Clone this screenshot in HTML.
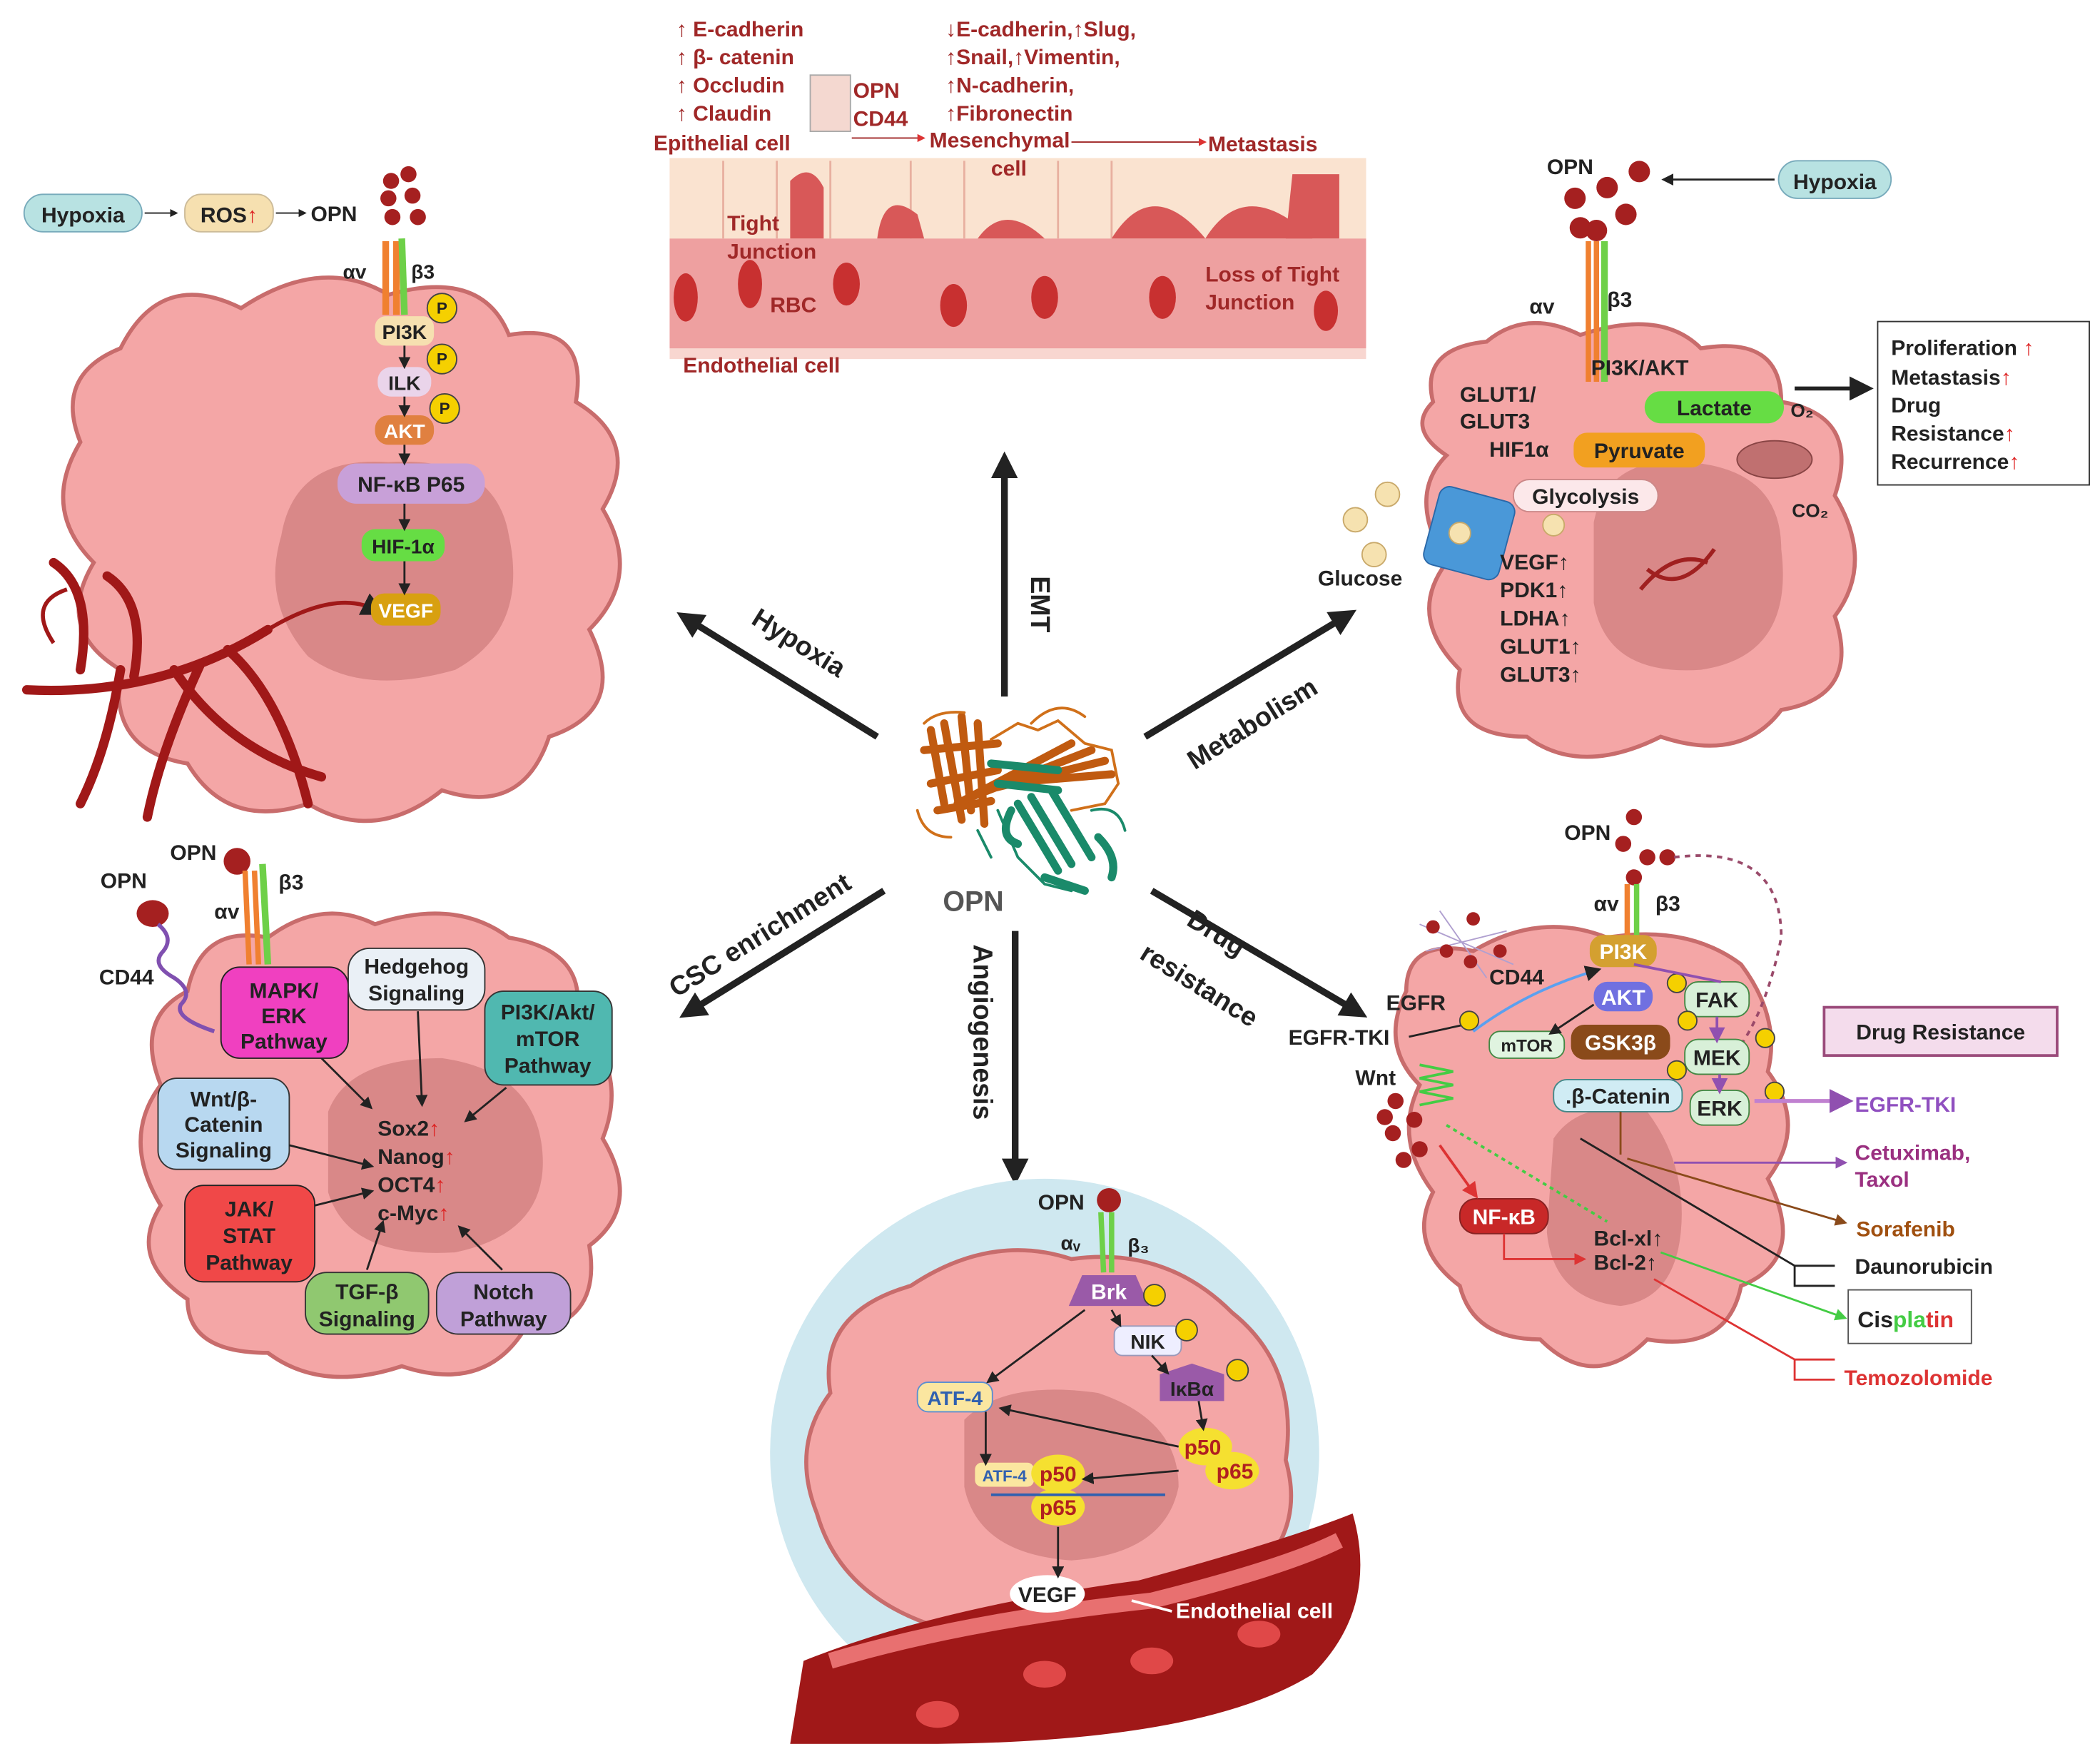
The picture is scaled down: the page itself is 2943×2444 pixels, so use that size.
<!DOCTYPE html>
<html><head><meta charset="utf-8"><style>
html,body{margin:0;padding:0;background:#fff}
svg{display:block}
text{font-family:"Liberation Sans",sans-serif;font-weight:bold}
</style></head><body>
<svg width="2943" height="2444" viewBox="0 0 1568 1302" xmlns="http://www.w3.org/2000/svg">
<defs>
<marker id="ah" markerWidth="6" markerHeight="6" refX="3" refY="3" orient="auto"><path d="M0,0L6,3L0,6z" fill="#222"/></marker>
<marker id="big" markerWidth="4" markerHeight="4" refX="1" refY="2" orient="auto"><path d="M0,0L4,2L0,4z" fill="#222"/></marker>
<marker id="ar" markerWidth="6" markerHeight="6" refX="3" refY="3" orient="auto"><path d="M0,0L6,3L0,6z" fill="#d33"/></marker>
<marker id="ap" markerWidth="6" markerHeight="6" refX="3" refY="3" orient="auto"><path d="M0,0L6,3L0,6z" fill="#9050b0"/></marker>
<marker id="ab" markerWidth="6" markerHeight="6" refX="3" refY="3" orient="auto"><path d="M0,0L6,3L0,6z" fill="#8a4a1a"/></marker>
<marker id="ag" markerWidth="6" markerHeight="6" refX="3" refY="3" orient="auto"><path d="M0,0L6,3L0,6z" fill="#4c4"/></marker>
</defs>

<!-- ===== Top-left cell ===== -->
<g>
<path d="M60,330 Q40,280 90,260 Q120,200 180,230 Q240,190 290,220 Q360,200 380,250 Q440,240 430,300 Q480,330 450,380 Q480,430 440,470 Q470,530 410,550 Q390,610 330,590 Q280,630 230,600 Q170,620 140,570 Q80,560 90,500 Q40,470 70,420 Q30,380 60,330Z" fill="#f4a6a6" stroke="#c86c6c" stroke-width="3"/>
<path d="M210,400 Q220,340 290,345 Q370,340 380,400 Q395,470 340,500 Q270,520 230,490 Q195,450 210,400Z" fill="#d98888"/>
<path d="M20,515 Q120,520 200,470 M60,500 Q70,440 40,420 M100,505 Q110,450 80,430 M130,500 Q170,560 240,580 M150,495 Q120,560 110,610 M170,485 Q210,520 230,600 M90,500 Q80,560 60,600" stroke="#a01818" stroke-width="7" fill="none" stroke-linecap="round"/>
<path d="M40,480 Q20,450 50,440 M200,470 Q250,440 280,455" stroke="#a01818" stroke-width="3" fill="none" marker-end="url(#ah)"/>
</g>
<rect x="18" y="145" width="88" height="28" rx="14" fill="#b8e2e2" stroke="#7ab"/>
<text x="62" y="166" font-size="16" text-anchor="middle" fill="#222">Hypoxia</text>
<line x1="108" y1="159" x2="130" y2="159" stroke="#222" marker-end="url(#ah)"/>
<rect x="138" y="145" width="66" height="28" rx="12" fill="#f6e0b0" stroke="#cb9"/>
<text x="171" y="166" font-size="16" text-anchor="middle" fill="#222">ROS<tspan fill="#d22">↑</tspan></text>
<line x1="206" y1="159" x2="226" y2="159" stroke="#222" marker-end="url(#ah)"/>
<text x="232" y="165" font-size="16" fill="#222">OPN</text>
<g fill="#a52020"><circle cx="292" cy="135" r="6"/><circle cx="305" cy="130" r="6"/><circle cx="290" cy="148" r="6"/><circle cx="308" cy="146" r="6"/><circle cx="293" cy="162" r="6"/><circle cx="312" cy="162" r="6"/></g>
<path d="M288,180 L288,235 M296,180 L296,235" stroke="#f08030" stroke-width="5"/><path d="M300,178 L302,235" stroke="#6ed048" stroke-width="5"/>
<text x="256" y="208" font-size="15" fill="#222">αv</text><text x="307" y="208" font-size="15" fill="#222">β3</text>
<rect x="280" y="236" width="44" height="22" rx="8" fill="#f6e0b0"/><text x="302" y="253" font-size="15" text-anchor="middle" fill="#222">PI3K</text>
<rect x="282" y="274" width="40" height="22" rx="10" fill="#ead4ea"/><text x="302" y="291" font-size="15" text-anchor="middle" fill="#222">ILK</text>
<rect x="280" y="310" width="44" height="22" rx="10" fill="#e08040"/><text x="302" y="327" font-size="15" text-anchor="middle" fill="#fff">AKT</text>
<g fill="#f5d000" stroke="#444"><circle cx="330" cy="230" r="11"/><circle cx="330" cy="268" r="11"/><circle cx="332" cy="305" r="11"/></g>
<g font-size="12" text-anchor="middle" fill="#222"><text x="330" y="234">P</text><text x="330" y="272">P</text><text x="332" y="309">P</text></g>
<rect x="252" y="346" width="110" height="30" rx="14" fill="#c8a0d8"/><text x="307" y="367" font-size="16" text-anchor="middle" fill="#222">NF-κB P65</text>
<rect x="270" y="395" width="62" height="24" rx="10" fill="#66dd44"/><text x="301" y="413" font-size="15" text-anchor="middle" fill="#222">HIF-1α</text>
<rect x="277" y="443" width="52" height="24" rx="10" fill="#d8a010"/><text x="303" y="461" font-size="15" text-anchor="middle" fill="#fff">VEGF</text>
<g stroke="#222" stroke-width="1.5" marker-end="url(#ah)"><line x1="302" y1="258" x2="302" y2="271"/><line x1="302" y1="296" x2="302" y2="307"/><line x1="302" y1="332" x2="302" y2="343"/><line x1="302" y1="376" x2="302" y2="392"/><line x1="302" y1="419" x2="302" y2="440"/></g>

<!-- ===== EMT panel ===== -->
<rect x="500" y="118" width="520" height="150" fill="#f8d6d0"/>
<rect x="500" y="178" width="520" height="82" fill="#eea0a0"/>
<rect x="500" y="118" width="520" height="60" fill="#fae3d0"/>
<g stroke="#e8b0a0" stroke-width="1.5"><line x1="540" y1="120" x2="540" y2="178"/><line x1="580" y1="120" x2="580" y2="178"/><line x1="620" y1="120" x2="620" y2="178"/><line x1="680" y1="120" x2="680" y2="178"/><line x1="720" y1="120" x2="720" y2="178"/><line x1="790" y1="120" x2="790" y2="178"/><line x1="830" y1="120" x2="830" y2="178"/></g>
<g fill="#c83030"><ellipse cx="512" cy="222" rx="9" ry="18"/><ellipse cx="560" cy="212" rx="9" ry="18"/><ellipse cx="632" cy="212" rx="10" ry="16"/><ellipse cx="712" cy="228" rx="10" ry="16"/><ellipse cx="780" cy="222" rx="10" ry="16"/><ellipse cx="868" cy="222" rx="10" ry="16"/><ellipse cx="990" cy="232" rx="9" ry="15"/></g>
<g fill="#d85858"><path d="M590,178 L590,135 Q605,120 615,140 L615,178Z"/><path d="M655,178 Q660,140 685,160 L690,178Z"/><path d="M730,178 Q750,150 780,178Z"/><path d="M830,178 Q860,130 900,178Z"/><path d="M900,178 Q930,130 980,178Z"/><path d="M960,178 L965,130 L1000,130 L1000,178Z"/></g>
<g font-size="16" fill="#a02828">
<text x="505" y="27">↑ E-cadherin</text><text x="505" y="48">↑ β- catenin</text><text x="505" y="69">↑ Occludin</text><text x="505" y="90">↑ Claudin</text>
<text x="488" y="112">Epithelial cell</text>
<text x="637" y="73">OPN</text><text x="637" y="94">CD44</text>
<text x="706" y="27">↓E-cadherin,↑Slug,</text><text x="706" y="48">↑Snail,↑Vimentin,</text><text x="706" y="69">↑N-cadherin,</text><text x="706" y="90">↑Fibronectin</text>
<text x="694" y="110">Mesenchymal</text><text x="740" y="131">cell</text>
<text x="902" y="113">Metastasis</text>
<text x="543" y="172">Tight</text><text x="543" y="193">Junction</text>
<text x="575" y="233">RBC</text>
<text x="900" y="210">Loss of Tight</text><text x="900" y="231">Junction</text>
<text x="510" y="278">Endothelial cell</text>
</g>
<rect x="605" y="56" width="30" height="42" fill="#f4d8d0" stroke="#aaa"/>
<line x1="636" y1="103" x2="688" y2="103" stroke="#a02828" marker-end="url(#ar)"/>
<line x1="800" y1="106" x2="898" y2="106" stroke="#a02828" marker-end="url(#ar)"/>

<!-- ===== Top-right cell ===== -->
<path d="M1070,300 Q1060,260 1110,255 Q1140,230 1180,250 Q1240,230 1270,260 Q1330,250 1330,300 Q1390,310 1370,370 Q1400,420 1370,460 Q1390,520 1330,530 Q1300,570 1240,550 Q1180,580 1140,550 Q1080,550 1090,500 Q1050,460 1080,420 Q1050,370 1080,340 Q1050,320 1070,300Z" fill="#f4a6a6" stroke="#c86c6c" stroke-width="3"/>
<path d="M1190,390 Q1200,340 1260,345 Q1330,350 1330,410 Q1340,490 1270,500 Q1200,505 1190,450Z" fill="#d98888"/>
<path d="M1225,440 Q1250,410 1275,420 M1230,425 Q1255,445 1280,410" stroke="#a02020" stroke-width="3" fill="none"/>
<text x="1155" y="130" font-size="16" fill="#222">OPN</text>
<g fill="#a52020"><circle cx="1176" cy="148" r="8"/><circle cx="1200" cy="140" r="8"/><circle cx="1224" cy="128" r="8"/><circle cx="1180" cy="170" r="8"/><circle cx="1214" cy="160" r="8"/><circle cx="1192" cy="172" r="8"/></g>
<line x1="1325" y1="134" x2="1245" y2="134" stroke="#222" stroke-width="1.5" marker-end="url(#ah)"/>
<rect x="1328" y="120" width="84" height="28" rx="14" fill="#b8e2e2" stroke="#7ab"/><text x="1370" y="141" font-size="16" text-anchor="middle" fill="#222">Hypoxia</text>
<path d="M1186,180 L1186,285 M1192,180 L1192,285" stroke="#f08030" stroke-width="4"/><path d="M1198,180 L1198,285" stroke="#6ed048" stroke-width="5"/>
<text x="1142" y="234" font-size="16" fill="#222">αv</text><text x="1200" y="229" font-size="16" fill="#222">β3</text>
<text x="1188" y="280" font-size="16" fill="#222">PI3K/AKT</text>
<text x="1090" y="300" font-size="16" fill="#222">GLUT1/</text><text x="1090" y="320" font-size="16" fill="#222">GLUT3</text>
<text x="1112" y="341" font-size="16" fill="#222">HIF1α</text>
<rect x="1228" y="292" width="104" height="24" rx="12" fill="#66dd44"/><text x="1280" y="310" font-size="16" text-anchor="middle" fill="#222">Lactate</text>
<text x="1337" y="311" font-size="14" fill="#222">O₂</text>
<rect x="1175" y="323" width="98" height="26" rx="10" fill="#f2a020"/><text x="1224" y="342" font-size="16" text-anchor="middle" fill="#222">Pyruvate</text>
<ellipse cx="1325" cy="343" rx="28" ry="14" fill="#c07070" stroke="#844"/>
<text x="1338" y="386" font-size="14" fill="#222">CO₂</text>
<rect x="1130" y="358" width="108" height="24" rx="12" fill="#fce8ea" stroke="#c88"/><text x="1184" y="376" font-size="16" text-anchor="middle" fill="#222">Glycolysis</text>
<rect x="1068" y="368" width="58" height="60" rx="8" fill="#4a98d8" stroke="#2a68a8" transform="rotate(15 1097 398)"/>
<g fill="#f6e2b0" stroke="#c9a96a"><circle cx="1012" cy="388" r="9"/><circle cx="1036" cy="369" r="9"/><circle cx="1026" cy="414" r="9"/><circle cx="1090" cy="398" r="8"/><circle cx="1160" cy="392" r="8"/></g>
<text x="984" y="437" font-size="16" fill="#222">Glucose</text>
<g font-size="16" fill="#222"><text x="1120" y="425">VEGF↑</text><text x="1120" y="446">PDK1↑</text><text x="1120" y="467">LDHA↑</text><text x="1120" y="488">GLUT1↑</text><text x="1120" y="509">GLUT3↑</text></g>
<line x1="1340" y1="290" x2="1390" y2="290" stroke="#222" stroke-width="3" marker-end="url(#ah)"/>
<rect x="1402" y="240" width="158" height="122" fill="#fff" stroke="#333"/>
<g font-size="16" fill="#222"><text x="1412" y="265">Proliferation <tspan fill="#d22">↑</tspan></text><text x="1412" y="287">Metastasis<tspan fill="#d22">↑</tspan></text><text x="1412" y="308">Drug</text><text x="1412" y="329">Resistance<tspan fill="#d22">↑</tspan></text><text x="1412" y="350">Recurrence<tspan fill="#d22">↑</tspan></text></g>

<!-- ===== Center protein ===== -->
<g fill="none" stroke-linecap="round">
<g stroke="#c05a10" stroke-width="6">
<path d="M695,545 L705,600 M705,540 L718,612 M718,535 L725,605 M730,540 L735,615 M690,560 L745,555 M695,585 L745,575 M700,605 L740,598"/>
<path d="M715,600 L800,555 M725,595 L815,560 M735,590 L825,568 M745,585 L830,578"/>
</g>
<g stroke="#d0701a" stroke-width="2">
<path d="M690,540 Q700,530 720,532 M740,552 L760,540 L775,545 L790,538 L810,555 L830,560 L835,585 L825,600 L800,605 M685,605 Q690,625 710,625 M770,540 Q790,520 810,535"/>
</g>
<g stroke="#1a8a6a" stroke-width="6">
<path d="M740,570 L790,575 M745,585 L790,590 M760,600 L790,650 M770,595 L800,645 M785,590 L815,640 M755,605 Q745,625 760,630 M820,625 Q835,640 830,655 M780,655 L810,665"/>
</g>
<g stroke="#1a8a6a" stroke-width="2">
<path d="M745,605 L760,640 L780,660 L800,665 M815,605 Q835,600 840,620 M730,620 L740,640"/>
</g>
</g>
<text x="704" y="680" font-size="21" fill="#555">OPN</text>
<g stroke="#222" stroke-width="5" marker-end="url(#big)" fill="none">
<line x1="655" y1="550" x2="518" y2="465"/>
<line x1="750" y1="520" x2="750" y2="352"/>
<line x1="855" y1="550" x2="1000" y2="463"/>
<line x1="660" y1="665" x2="520" y2="752"/>
<line x1="758" y1="695" x2="758" y2="870"/>
<line x1="860" y1="665" x2="1008" y2="752"/>
</g>
<text font-size="20" fill="#222" transform="translate(560,465) rotate(32)">Hypoxia</text>
<text font-size="20" fill="#222" transform="translate(770,430) rotate(90)">EMT</text>
<text font-size="20" fill="#222" transform="translate(892,575) rotate(-32)">Metabolism</text>
<text font-size="20" fill="#222" transform="translate(505,745) rotate(-32)">CSC enrichment</text>
<text font-size="20" fill="#222" transform="translate(727,705) rotate(90)">Angiogenesis</text>
<text font-size="20" fill="#222" transform="translate(885,690) rotate(32)">Drug</text>
<text font-size="20" fill="#222" transform="translate(850,715) rotate(32)">resistance</text>

<!-- ===== Bottom-left cell ===== -->
<path d="M140,740 Q150,690 200,700 Q240,670 280,690 Q340,670 380,700 Q440,710 430,760 Q470,800 450,850 Q480,900 440,930 Q450,990 390,995 Q360,1040 300,1020 Q240,1040 200,1010 Q140,1010 140,970 Q95,940 120,900 Q90,850 120,810 Q100,760 140,740Z" fill="#f4a6a6" stroke="#c86c6c" stroke-width="3"/>
<path d="M245,830 Q260,790 330,790 Q400,800 405,860 Q410,920 340,935 Q260,940 245,890Z" fill="#d98888"/>
<text x="127" y="642" font-size="16" fill="#222">OPN</text><text x="75" y="663" font-size="16" fill="#222">OPN</text>
<text x="74" y="735" font-size="16" fill="#222">CD44</text>
<circle cx="177" cy="643" r="10" fill="#a52020"/><ellipse cx="114" cy="682" rx="12" ry="10" fill="#a52020"/>
<path d="M118,690 Q130,700 122,710 Q112,720 130,730 Q145,740 135,750 Q130,760 160,770" stroke="#8050b0" stroke-width="3" fill="none"/>
<path d="M183,650 L186,720 M190,650 L193,720" stroke="#f08030" stroke-width="4"/><path d="M196,645 L200,720" stroke="#6ed048" stroke-width="5"/>
<text x="160" y="686" font-size="16" fill="#222">αv</text><text x="208" y="664" font-size="16" fill="#222">β3</text>
<rect x="165" y="722" width="95" height="68" rx="14" fill="#f040c0" stroke="#222"/><text x="212" y="745" font-size="16" text-anchor="middle" fill="#222">MAPK/</text><text x="212" y="764" font-size="16" text-anchor="middle" fill="#222">ERK</text><text x="212" y="783" font-size="16" text-anchor="middle" fill="#222">Pathway</text>
<rect x="260" y="708" width="102" height="46" rx="16" fill="#eaf0f6" stroke="#333"/><text x="311" y="727" font-size="16" text-anchor="middle" fill="#222">Hedgehog</text><text x="311" y="747" font-size="16" text-anchor="middle" fill="#222">Signaling</text>
<rect x="362" y="740" width="95" height="70" rx="14" fill="#50b8b0" stroke="#333"/><text x="409" y="761" font-size="16" text-anchor="middle" fill="#222">PI3K/Akt/</text><text x="409" y="781" font-size="16" text-anchor="middle" fill="#222">mTOR</text><text x="409" y="801" font-size="16" text-anchor="middle" fill="#222">Pathway</text>
<rect x="118" y="805" width="98" height="68" rx="14" fill="#b8d8f0" stroke="#333"/><text x="167" y="826" font-size="16" text-anchor="middle" fill="#222">Wnt/β-</text><text x="167" y="845" font-size="16" text-anchor="middle" fill="#222">Catenin</text><text x="167" y="864" font-size="16" text-anchor="middle" fill="#222">Signaling</text>
<rect x="138" y="885" width="97" height="72" rx="14" fill="#f04848" stroke="#222"/><text x="186" y="908" font-size="16" text-anchor="middle" fill="#222">JAK/</text><text x="186" y="928" font-size="16" text-anchor="middle" fill="#222">STAT</text><text x="186" y="948" font-size="16" text-anchor="middle" fill="#222">Pathway</text>
<rect x="228" y="950" width="92" height="46" rx="16" fill="#90c870" stroke="#333"/><text x="274" y="970" font-size="16" text-anchor="middle" fill="#222">TGF-β</text><text x="274" y="990" font-size="16" text-anchor="middle" fill="#222">Signaling</text>
<rect x="326" y="950" width="100" height="46" rx="16" fill="#c0a0d8" stroke="#333"/><text x="376" y="970" font-size="16" text-anchor="middle" fill="#222">Notch</text><text x="376" y="990" font-size="16" text-anchor="middle" fill="#222">Pathway</text>
<g font-size="16" fill="#222"><text x="282" y="848">Sox2<tspan fill="#d22">↑</tspan></text><text x="282" y="869">Nanog<tspan fill="#d22">↑</tspan></text><text x="282" y="890">OCT4<tspan fill="#d22">↑</tspan></text><text x="282" y="911">c-Myc<tspan fill="#d22">↑</tspan></text></g>
<g stroke="#222" stroke-width="1.5" marker-end="url(#ah)"><line x1="240" y1="790" x2="275" y2="825"/><line x1="312" y1="755" x2="315" y2="822"/><line x1="378" y1="812" x2="350" y2="835"/><line x1="216" y1="855" x2="275" y2="870"/><line x1="235" y1="900" x2="275" y2="890"/><line x1="274" y1="948" x2="285" y2="915"/><line x1="375" y1="948" x2="345" y2="918"/></g>

<!-- ===== Bottom center ===== -->
<circle cx="780" cy="1085" r="205" fill="#cfe8f0"/>
<path d="M620,1040 Q610,980 680,960 Q740,920 800,940 Q870,930 920,980 Q970,1020 960,1090 Q980,1160 900,1200 Q820,1240 720,1220 Q630,1200 610,1130 Q590,1080 620,1040Z" fill="#f4a6a6" stroke="#c86c6c" stroke-width="3"/>
<path d="M720,1060 Q750,1030 820,1040 Q880,1060 880,1110 Q870,1160 800,1165 Q730,1160 720,1110Z" fill="#d98888"/>
<path d="M600,1240 Q700,1200 850,1180 Q960,1150 1010,1130 Q1030,1200 980,1250 Q900,1300 700,1302 L590,1302Z" fill="#a01818"/>
<path d="M620,1240 Q720,1210 860,1195 Q960,1170 1000,1150" stroke="#e87070" stroke-width="12" fill="none"/>
<g fill="#e04848"><ellipse cx="780" cy="1250" rx="16" ry="10"/><ellipse cx="860" cy="1240" rx="16" ry="10"/><ellipse cx="940" cy="1220" rx="16" ry="10"/><ellipse cx="700" cy="1280" rx="16" ry="10"/></g>
<text x="775" y="903" font-size="16" fill="#222">OPN</text><circle cx="828" cy="896" r="9" fill="#a52020"/>
<path d="M822,905 L824,950 M830,905 L830,950" stroke="#6ed048" stroke-width="4"/>
<text x="792" y="933" font-size="15" fill="#222">αᵥ</text><text x="842" y="935" font-size="15" fill="#222">β₃</text>
<path d="M808,952 L848,952 L858,975 L798,975Z" fill="#9a5aa8"/><text x="828" y="970" font-size="16" text-anchor="middle" fill="#fff">Brk</text>
<rect x="832" y="990" width="50" height="22" rx="6" fill="#eef" stroke="#99b"/><text x="857" y="1007" font-size="15" text-anchor="middle" fill="#222">NIK</text>
<path d="M866,1026 L890,1018 L914,1026 L914,1046 L866,1046Z" fill="#9a5aa8"/><text x="890" y="1042" font-size="15" text-anchor="middle" fill="#222">IκBα</text>
<g fill="#f5d000" stroke="#444"><circle cx="862" cy="967" r="8"/><circle cx="886" cy="993" r="8"/><circle cx="924" cy="1023" r="8"/></g>
<rect x="685" y="1032" width="56" height="22" rx="8" fill="#fbe6a0" stroke="#5b8fd0"/><text x="713" y="1049" font-size="15" text-anchor="middle" fill="#3060b0">ATF-4</text>
<ellipse cx="900" cy="1080" rx="20" ry="14" fill="#f5e030"/><ellipse cx="920" cy="1098" rx="20" ry="14" fill="#f5e030"/>
<text x="898" y="1086" font-size="16" text-anchor="middle" fill="#b02020">p50</text><text x="922" y="1104" font-size="16" text-anchor="middle" fill="#b02020">p65</text>
<rect x="728" y="1092" width="44" height="18" rx="5" fill="#fbe6a0"/><text x="750" y="1106" font-size="12" text-anchor="middle" fill="#3060b0">ATF-4</text>
<ellipse cx="790" cy="1100" rx="20" ry="14" fill="#f5e030"/><ellipse cx="790" cy="1125" rx="20" ry="14" fill="#f5e030"/>
<text x="790" y="1106" font-size="16" text-anchor="middle" fill="#b02020">p50</text><text x="790" y="1131" font-size="16" text-anchor="middle" fill="#b02020">p65</text>
<line x1="740" y1="1116" x2="870" y2="1116" stroke="#3060b0" stroke-width="2"/>
<ellipse cx="782" cy="1190" rx="28" ry="14" fill="#fff"/><text x="782" y="1196" font-size="16" text-anchor="middle" fill="#222">VEGF</text>
<text x="878" y="1208" font-size="16" fill="#fff">Endothelial cell</text>
<line x1="875" y1="1203" x2="845" y2="1195" stroke="#fff" stroke-width="2"/>
<g stroke="#222" stroke-width="1.5" marker-end="url(#ah)"><line x1="810" y1="978" x2="740" y2="1030"/><line x1="830" y1="978" x2="835" y2="987"/><line x1="860" y1="1012" x2="870" y2="1023"/><line x1="895" y1="1046" x2="898" y2="1064"/><line x1="880" y1="1080" x2="750" y2="1052"/><line x1="880" y1="1098" x2="812" y2="1104"/><line x1="736" y1="1054" x2="736" y2="1090"/><line x1="790" y1="1140" x2="790" y2="1174"/></g>

<!-- ===== Bottom-right cell ===== -->
<path d="M1050,740 Q1050,700 1100,710 Q1150,680 1200,700 Q1260,690 1300,720 Q1330,760 1320,800 Q1350,840 1320,880 Q1350,940 1300,960 Q1290,1010 1230,1000 Q1190,1040 1150,1000 Q1100,1000 1090,960 Q1050,930 1070,890 Q1040,850 1060,810 Q1030,780 1050,740Z" fill="#f4a6a6" stroke="#c86c6c" stroke-width="3"/>
<path d="M1160,850 Q1180,820 1230,830 Q1260,870 1255,920 Q1250,970 1210,975 Q1160,970 1155,920Z" fill="#d98888"/>
<text x="1168" y="627" font-size="16" fill="#222">OPN</text>
<g fill="#a52020"><circle cx="1220" cy="610" r="6"/><circle cx="1212" cy="630" r="6"/><circle cx="1230" cy="640" r="6"/><circle cx="1245" cy="640" r="6"/><circle cx="1220" cy="655" r="6"/></g>
<path d="M1215,660 L1215,705" stroke="#f08030" stroke-width="4"/><path d="M1222,660 L1222,705" stroke="#6ed048" stroke-width="4"/>
<text x="1190" y="680" font-size="16" fill="#222">αv</text><text x="1236" y="680" font-size="16" fill="#222">β3</text>
<path d="M1250,640 Q1330,630 1330,700 Q1320,750 1300,780" stroke="#9a4a6a" stroke-width="2" stroke-dasharray="4 4" fill="none"/>
<g stroke="#b0a0d0" stroke-width="1"><path d="M1060,690 L1130,720 M1065,710 L1125,695 M1075,680 L1110,730"/></g>
<g fill="#a52020"><circle cx="1070" cy="692" r="5"/><circle cx="1100" cy="686" r="5"/><circle cx="1080" cy="710" r="5"/><circle cx="1098" cy="718" r="5"/><circle cx="1120" cy="710" r="5"/><circle cx="1042" cy="822" r="6"/><circle cx="1056" cy="836" r="6"/><circle cx="1040" cy="846" r="6"/><circle cx="1060" cy="858" r="6"/><circle cx="1048" cy="866" r="6"/><circle cx="1034" cy="834" r="6"/></g>
<path d="M1060,795 l25,5 l-25,5 l25,5 l-25,5 l25,5 l-25,5" stroke="#4c4" stroke-width="2" fill="none"/>
<text x="1112" y="735" font-size="16" fill="#222">CD44</text>
<text x="1035" y="754" font-size="16" fill="#222">EGFR</text>
<text x="962" y="780" font-size="16" fill="#222">EGFR-TKI</text>
<text x="1012" y="810" font-size="16" fill="#222">Wnt</text>
<line x1="1052" y1="774" x2="1098" y2="764" stroke="#222" stroke-width="1.5"/>
<rect x="1187" y="698" width="50" height="24" rx="10" fill="#d4a030"/><text x="1212" y="716" font-size="16" text-anchor="middle" fill="#fff">PI3K</text>
<rect x="1190" y="733" width="44" height="22" rx="10" fill="#7070e0"/><text x="1212" y="750" font-size="16" text-anchor="middle" fill="#fff">AKT</text>
<rect x="1112" y="770" width="56" height="20" rx="8" fill="#e0f4e0" stroke="#484"/><text x="1140" y="785" font-size="13" text-anchor="middle" fill="#222">mTOR</text>
<rect x="1173" y="765" width="74" height="26" rx="10" fill="#8a4a1a"/><text x="1210" y="784" font-size="16" text-anchor="middle" fill="#fff">GSK3β</text>
<rect x="1160" y="806" width="96" height="24" rx="10" fill="#d0ecf4" stroke="#488"/><text x="1208" y="824" font-size="16" text-anchor="middle" fill="#222">.β-Catenin</text>
<rect x="1258" y="733" width="48" height="26" rx="10" fill="#d8f0d8" stroke="#484"/><text x="1282" y="752" font-size="16" text-anchor="middle" fill="#222">FAK</text>
<rect x="1258" y="776" width="48" height="26" rx="10" fill="#d8f0d8" stroke="#484"/><text x="1282" y="795" font-size="16" text-anchor="middle" fill="#222">MEK</text>
<rect x="1262" y="814" width="44" height="26" rx="10" fill="#d8f0d8" stroke="#484"/><text x="1284" y="833" font-size="16" text-anchor="middle" fill="#222">ERK</text>
<g fill="#f5d000" stroke="#444"><circle cx="1252" cy="734" r="7"/><circle cx="1260" cy="762" r="7"/><circle cx="1318" cy="775" r="7"/><circle cx="1252" cy="799" r="7"/><circle cx="1325" cy="815" r="7"/><circle cx="1097" cy="762" r="7"/></g>
<rect x="1090" y="895" width="66" height="26" rx="12" fill="#c82828" stroke="#822"/><text x="1123" y="914" font-size="16" text-anchor="middle" fill="#fff">NF-κB</text>
<text x="1190" y="930" font-size="16" fill="#222">Bcl-xl↑</text><text x="1190" y="948" font-size="16" fill="#222">Bcl-2↑</text>
<path d="M1100,770 Q1140,740 1190,725" stroke="#5aa0f0" stroke-width="2" fill="none" marker-end="url(#ah)"/>
<line x1="1190" y1="750" x2="1160" y2="770" stroke="#222" stroke-width="1.5" marker-end="url(#ah)"/>
<path d="M1220,720 L1285,733" stroke="#9050b0" stroke-width="2"/>
<line x1="1282" y1="759" x2="1282" y2="773" stroke="#9050b0" stroke-width="2" marker-end="url(#ap)"/>
<line x1="1284" y1="802" x2="1284" y2="811" stroke="#9050b0" stroke-width="2" marker-end="url(#ap)"/>
<line x1="1310" y1="822" x2="1375" y2="822" stroke="#c080d0" stroke-width="3" marker-end="url(#ap)"/>
<line x1="1250" y1="868" x2="1375" y2="868" stroke="#9050b0" stroke-width="1.5" marker-end="url(#ap)"/>
<line x1="1210" y1="830" x2="1210" y2="862" stroke="#8a4a1a" stroke-width="1.5"/>
<line x1="1215" y1="865" x2="1375" y2="912" stroke="#8a4a1a" stroke-width="1.5" marker-end="url(#ab)"/>
<path d="M1180,850 L1340,945 L1340,960 L1370,960 M1340,945 L1370,945" stroke="#222" stroke-width="1.5" fill="none"/>
<line x1="1240" y1="935" x2="1375" y2="983" stroke="#4c4" stroke-width="1.5" marker-end="url(#ag)"/>
<path d="M1080,840 L1200,912" stroke="#4c4" stroke-width="2" stroke-dasharray="3 3" fill="none"/>
<path d="M1235,955 L1340,1015 L1340,1030 L1370,1030 M1340,1015 L1370,1015" stroke="#d33" stroke-width="1.5" fill="none"/>
<path d="M1123,921 L1123,940 L1180,940" stroke="#d33" stroke-width="1.5" fill="none" marker-end="url(#ar)"/>
<line x1="1075" y1="855" x2="1100" y2="890" stroke="#d33" stroke-width="2" marker-end="url(#ar)"/>
<rect x="1362" y="752" width="174" height="36" fill="#f4dcec" stroke="#9a4a7a" stroke-width="2"/>
<text x="1449" y="776" font-size="16" text-anchor="middle" fill="#222">Drug Resistance</text>
<text x="1385" y="830" font-size="16" fill="#9050c0">EGFR-TKI</text>
<text x="1385" y="866" font-size="16" fill="#9a3080">Cetuximab,</text><text x="1385" y="886" font-size="16" fill="#9a3080">Taxol</text>
<text x="1386" y="923" font-size="16" fill="#a05010">Sorafenib</text>
<text x="1385" y="951" font-size="16" fill="#222">Daunorubicin</text>
<rect x="1380" y="963" width="92" height="40" fill="#fff" stroke="#555"/>
<text x="1387" y="991" font-size="17" fill="#222">Cis<tspan fill="#4c4">pla</tspan><tspan fill="#d33">tin</tspan></text>
<text x="1377" y="1034" font-size="16" fill="#d33">Temozolomide</text>
</svg>
</body></html>
